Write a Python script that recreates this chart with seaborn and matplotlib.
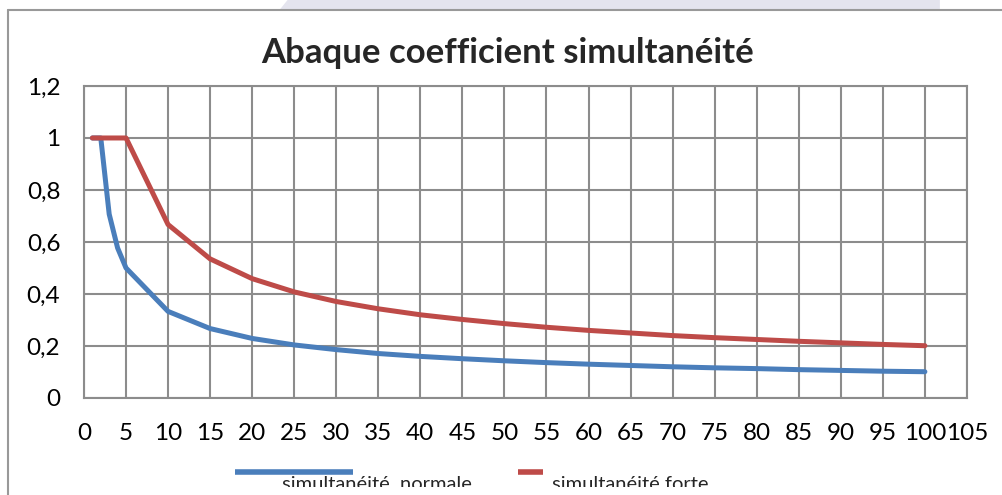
import matplotlib.pyplot as plt
import matplotlib.patches as mpatches
import pandas as pd
import seaborn as sns
from matplotlib.ticker import FuncFormatter, MultipleLocator
from matplotlib.transforms import Bbox, TransformedBbox

# data (number of outlets -> coefficient)
nb = [1, 2, 3, 4, 5, 10, 15, 20, 25, 30, 35, 40, 45, 50, 55, 60, 65, 70, 75, 80, 85, 90, 95, 100]
normale = [1, 1, 0.707, 0.577, 0.5, 0.333, 0.267, 0.229, 0.204, 0.186, 0.171, 0.160, 0.151,
           0.143, 0.136, 0.130, 0.125, 0.120, 0.116, 0.113, 0.109, 0.106, 0.103, 0.101]
forte = [1, 1, 1, 1, 1, 0.667, 0.535, 0.459, 0.408, 0.371, 0.343, 0.320, 0.302,
         0.286, 0.272, 0.260, 0.250, 0.240, 0.232, 0.225, 0.218, 0.212, 0.206, 0.201]
series = ['simultanéité  normale', 'simultanéité forte']
title = 'Abaque coefficient simultanéité'

df = pd.concat([
    pd.DataFrame({'n': nb, 'coef': normale, 'serie': series[0]}),
    pd.DataFrame({'n': nb, 'coef': forte, 'serie': series[1]}),
])

sns.set_theme(style='white')
plt.rcParams['font.family'] = ['Lato', 'DejaVu Sans']

grid_col = '#8c8c8c'
colors = {series[0]: '#4a7ebb', series[1]: '#be4b48'}

fig = plt.figure(figsize=(10.02, 4.95), dpi=100)
ax = fig.add_axes([0.0838, 0.196, 0.8812, 0.6303])

sns.lineplot(data=df, x='n', y='coef', hue='serie', palette=colors, linewidth=3.6,
             legend=False, ax=ax, zorder=3)

ax.set_xlim(0, 105)
ax.set_ylim(0, 1.2)
ax.xaxis.set_major_locator(MultipleLocator(5))
ax.yaxis.set_major_locator(MultipleLocator(0.2))
fmt = FuncFormatter(lambda v, p: ('%g' % round(v, 2)).replace('.', ','))
ax.yaxis.set_major_formatter(fmt)
ax.grid(True, color=grid_col, linewidth=1.5)
for s in ax.spines.values():
    s.set_color(grid_col)
    s.set_linewidth(1.5)
ax.tick_params(axis='both', labelsize=17.5, length=0, colors='black')
ax.tick_params(axis='x', pad=18)
ax.tick_params(axis='y', pad=17)
ax.set_xlabel('')
ax.set_ylabel('')

fig.text(0.507, 0.893, title, ha='center', va='center', fontsize=25, fontweight='bold')

# legend, drawn by hand: the screenshot cuts the labels around mid height
clip = TransformedBbox(Bbox([[0, 8 / 495], [1, 1]]), fig.transFigure)
leg_y = 1 - 472 / 495
fig.add_artist(plt.Line2D([235 / 1002, 353 / 1002], [leg_y, leg_y], color=colors[series[0]],
                          linewidth=4, transform=fig.transFigure, solid_capstyle='butt'))
fig.add_artist(plt.Line2D([518 / 1002, 543 / 1002], [leg_y, leg_y], color=colors[series[1]],
                          linewidth=4, transform=fig.transFigure, solid_capstyle='butt'))
for x0, lab in [(282 / 1002, series[0]), (552 / 1002, series[1])]:
    t = fig.text(x0, 1 - 490 / 495, lab, ha='left', va='baseline', fontsize=14.5, zorder=1)
    t.set_clip_box(clip)
    t.set_clip_on(True)

# outer frame of the chart area and the grey band above it
fig.add_artist(plt.Line2D([0.008, 1.0], [0.98, 0.98], color='#999999', linewidth=1.5,
                          transform=fig.transFigure))
fig.add_artist(plt.Line2D([0.008, 0.008], [0.0, 0.98], color='#999999', linewidth=1.5,
                          transform=fig.transFigure))
band = mpatches.Polygon([(0.279, 0.98), (0.287, 1.0), (0.938, 1.0), (0.938, 0.98)],
                        closed=True, facecolor='#e4e4ee', edgecolor='none',
                        transform=fig.transFigure)
fig.add_artist(band)

fig.savefig('out.png', dpi=100)
